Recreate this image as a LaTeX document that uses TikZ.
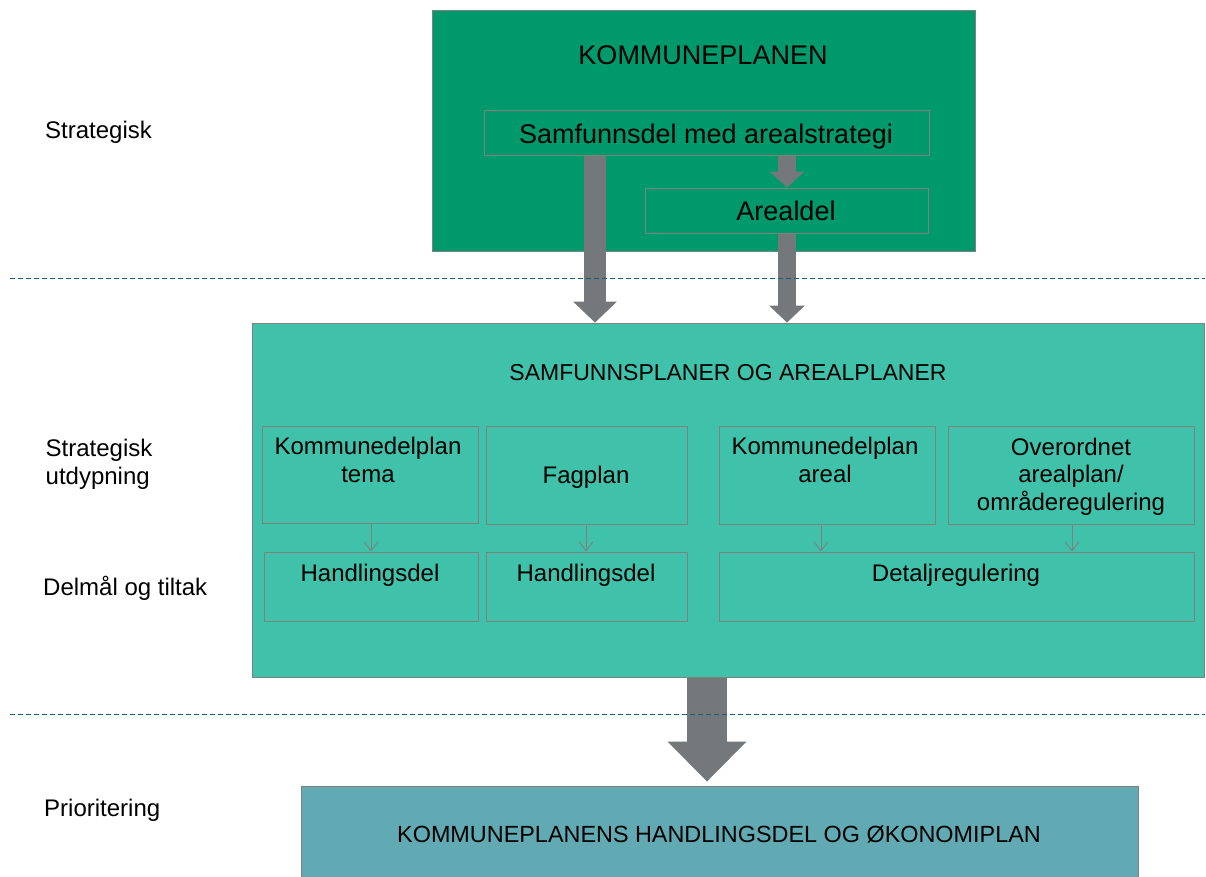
\documentclass[tikz,border=0pt]{standalone}
\usepackage{fontspec}
\setmainfont{Liberation Sans}
\usetikzlibrary{arrows.meta}
\definecolor{topgreen}{RGB}{0,153,108}
\definecolor{midgreen}{RGB}{64,193,170}
\definecolor{botteal}{RGB}{98,170,179}
\definecolor{arrowgray}{RGB}{117,120,123}
\definecolor{boxline}{RGB}{128,128,128}
\definecolor{dashblue}{RGB}{25,95,128}
\tikzset{
  box/.style={draw=boxline, line width=1pt, inner sep=0pt, rectangle},
  txtbig/.style={font=\fontsize{27}{32}\selectfont, inner sep=0pt, anchor=base},
  txtmid/.style={font=\fontsize{24}{28}\selectfont, inner sep=0pt, anchor=base, align=center},
  txtleft/.style={font=\fontsize{24}{27.5}\selectfont, inner sep=0pt, anchor=base west, align=left},
  fatarrow/.style={draw=arrowgray, line width=#1},
  smallarrow/.style={draw=boxline, line width=0.9pt, -{Straight Barb[length=9pt,width=14pt]}},
  sepline/.style={draw=dashblue, line width=1pt, dash pattern=on 5pt off 3pt}
}
\begin{document}
\begin{tikzpicture}[x=1pt,y=-1pt]
\useasboundingbox (0,0) rectangle (1206,876);
% boxes
\node[box, fill=topgreen, minimum width=543, minimum height=241] (top) at (703.5,130.5) {};
\node[box, minimum width=445, minimum height=45] (samf) at (706.5,132.5) {};
\node[box, minimum width=283, minimum height=45] (areal) at (786.5,210.5) {};
\node[box, fill=midgreen, minimum width=952, minimum height=354] (mid) at (728,500) {};
\node[box, minimum width=216, minimum height=97] (kdt) at (370,474.5) {};
\node[box, minimum width=201, minimum height=98] (fag) at (586.5,475) {};
\node[box, minimum width=216, minimum height=98] (kda) at (827,475) {};
\node[box, minimum width=246, minimum height=98] (ovo) at (1071,475) {};
\node[box, minimum width=214, minimum height=69] (hd1) at (371,586.5) {};
\node[box, minimum width=201, minimum height=69] (hd2) at (586.5,586.5) {};
\node[box, minimum width=475, minimum height=69] (det) at (956.5,586.5) {};
\node[box, fill=botteal, minimum width=837, minimum height=96] (bot) at (719.5,834) {};
% texts
\node[txtbig] (topT) at (703,64.5) {KOMMUNEPLANEN};
\node[txtbig] (samfT) at (706,143) {Samfunnsdel med arealstrategi};
\node[txtbig] (arealT) at (786,220.5) {Arealdel};
\node[txtmid, font=\fontsize{23}{28}\selectfont] (midT) at (728,380) {SAMFUNNSPLANER OG AREALPLANER};
\node[txtmid] (kdtT) at (368,482) {Kommunedelplan\\tema};
\node[txtmid] (fagT) at (586,483) {Fagplan};
\node[txtmid] (kdaT) at (825,482.5) {Kommunedelplan\\areal};
\node[txtmid, font=\fontsize{24}{27.5}\selectfont] (ovoT) at (1071,510) {Overordnet\\arealplan/\\områderegulering};
\node[txtmid] (hd1T) at (370,581) {Handlingsdel};
\node[txtmid] (hd2T) at (586,581) {Handlingsdel};
\node[txtmid] (detT) at (956,581) {Detaljregulering};
\node[txtmid, font=\fontsize{23.4}{28}\selectfont] (botT) at (719,842) {KOMMUNEPLANENS HANDLINGSDEL OG ØKONOMIPLAN};
\node[txtleft] (lab1) at (45,138) {Strategisk};
\node[txtleft] (lab2) at (45.5,484) {Strategisk\\utdypning};
\node[txtleft] (lab3) at (43,595) {Delmål og tiltak};
\node[txtleft] (lab4) at (44,816) {Prioritering};
% arrow positions
\coordinate (xa1) at (595,0);
\coordinate (xa2) at (787,0);
\coordinate (xa4) at (707,0);
\coordinate (xs1) at (371,0);
\coordinate (xs2) at (586,0);
\coordinate (xs3) at (821,0);
\coordinate (xs4) at (1072,0);
% fat arrows
\draw[fatarrow=22pt, -{Triangle[width=44pt,length=21pt,line width=0pt]}] (samf.south -| xa1) -- (mid.north -| xa1);
\draw[fatarrow=18pt, -{Triangle[width=35pt,length=16pt,line width=0pt]}] (samf.south -| xa2) -- (areal.north -| xa2);
\draw[fatarrow=18pt, -{Triangle[width=36pt,length=17pt,line width=0pt]}] (areal.south -| xa2) -- (mid.north -| xa2);
\draw[fatarrow=40pt, shorten >=4pt, -{Triangle[width=79pt,length=40pt,line width=0pt]}] (mid.south -| xa4) -- (bot.north -| xa4);
% small arrows
\draw[smallarrow] (kdt.south -| xs1) -- (hd1.north -| xs1);
\draw[smallarrow] (fag.south -| xs2) -- (hd2.north -| xs2);
\draw[smallarrow] (kda.south -| xs3) -- (det.north -| xs3);
\draw[smallarrow] (ovo.south -| xs4) -- (det.north -| xs4);
% separator lines
\coordinate (d1a) at (10,278);
\coordinate (d1b) at (1205,278);
\coordinate (d2a) at (10,714);
\coordinate (d2b) at (1205,714);
\draw[sepline] (d1a) -- (d1b);
\draw[sepline] (d2a) -- (d2b);
\end{tikzpicture}
\end{document}
